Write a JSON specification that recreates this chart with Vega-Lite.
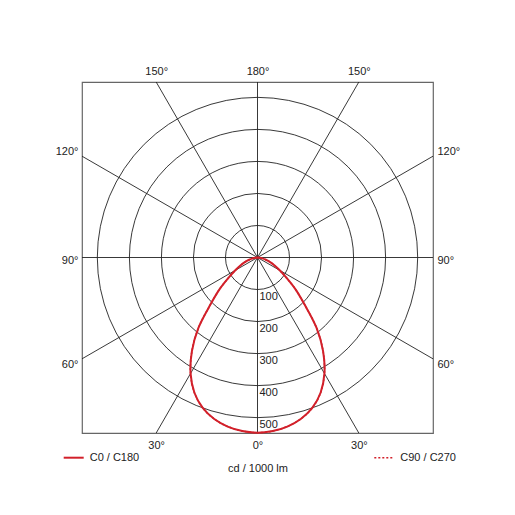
{
  "$schema": "https://vega.github.io/schema/vega-lite/v6.json",
  "width": 351,
  "height": 351,
  "autosize": "none",
  "padding": {"left": 82, "top": 82, "right": 82, "bottom": 82},
  "background": "white",
  "config": {
    "font": "Liberation Sans",
    "view": {"stroke": "#666666", "strokeWidth": 1.2},
    "axis": {"ticks": false, "domain": false, "grid": false, "labelFontSize": 11, "labelColor": "#222222", "labelFont": "Liberation Sans", "titleFont": "Liberation Sans", "titleFontSize": 11, "titleFontWeight": "normal", "titleColor": "#222222"},
    "legend": {"labelFont": "Liberation Sans", "labelFontSize": 11, "labelColor": "#222222", "padding": 0}
  },
  "datasets": {
    "rings": [{"r": 100}, {"r": 200}, {"r": 300}, {"r": 400}, {"r": 500}],
    "rays": [{"angle": 0}, {"angle": 30}, {"angle": 60}, {"angle": 90}, {"angle": 120}, {"angle": 150}, {"angle": 180}, {"angle": 210}, {"angle": 240}, {"angle": 270}, {"angle": 300}, {"angle": 330}],
    "curves": [
      {"series": "C0 / C180", "gamma": -90, "I": 0},
      {"series": "C0 / C180", "gamma": -85, "I": 6},
      {"series": "C0 / C180", "gamma": -80, "I": 15},
      {"series": "C0 / C180", "gamma": -75, "I": 27},
      {"series": "C0 / C180", "gamma": -70, "I": 42},
      {"series": "C0 / C180", "gamma": -65, "I": 58},
      {"series": "C0 / C180", "gamma": -60, "I": 80},
      {"series": "C0 / C180", "gamma": -55, "I": 110},
      {"series": "C0 / C180", "gamma": -50, "I": 155},
      {"series": "C0 / C180", "gamma": -45, "I": 208},
      {"series": "C0 / C180", "gamma": -40, "I": 287},
      {"series": "C0 / C180", "gamma": -35, "I": 357},
      {"series": "C0 / C180", "gamma": -30, "I": 418},
      {"series": "C0 / C180", "gamma": -25, "I": 466},
      {"series": "C0 / C180", "gamma": -20, "I": 500},
      {"series": "C0 / C180", "gamma": -15, "I": 522},
      {"series": "C0 / C180", "gamma": -10, "I": 536},
      {"series": "C0 / C180", "gamma": -5, "I": 544},
      {"series": "C0 / C180", "gamma": 0, "I": 547},
      {"series": "C0 / C180", "gamma": 5, "I": 544},
      {"series": "C0 / C180", "gamma": 10, "I": 536},
      {"series": "C0 / C180", "gamma": 15, "I": 522},
      {"series": "C0 / C180", "gamma": 20, "I": 500},
      {"series": "C0 / C180", "gamma": 25, "I": 466},
      {"series": "C0 / C180", "gamma": 30, "I": 418},
      {"series": "C0 / C180", "gamma": 35, "I": 357},
      {"series": "C0 / C180", "gamma": 40, "I": 287},
      {"series": "C0 / C180", "gamma": 45, "I": 208},
      {"series": "C0 / C180", "gamma": 50, "I": 155},
      {"series": "C0 / C180", "gamma": 55, "I": 110},
      {"series": "C0 / C180", "gamma": 60, "I": 80},
      {"series": "C0 / C180", "gamma": 65, "I": 58},
      {"series": "C0 / C180", "gamma": 70, "I": 42},
      {"series": "C0 / C180", "gamma": 75, "I": 27},
      {"series": "C0 / C180", "gamma": 80, "I": 15},
      {"series": "C0 / C180", "gamma": 85, "I": 6},
      {"series": "C0 / C180", "gamma": 90, "I": 0},
      {"series": "C90 / C270", "gamma": -90, "I": 0},
      {"series": "C90 / C270", "gamma": -85, "I": 6},
      {"series": "C90 / C270", "gamma": -80, "I": 15},
      {"series": "C90 / C270", "gamma": -75, "I": 27},
      {"series": "C90 / C270", "gamma": -70, "I": 42},
      {"series": "C90 / C270", "gamma": -65, "I": 58},
      {"series": "C90 / C270", "gamma": -60, "I": 80},
      {"series": "C90 / C270", "gamma": -55, "I": 110},
      {"series": "C90 / C270", "gamma": -50, "I": 155},
      {"series": "C90 / C270", "gamma": -45, "I": 208},
      {"series": "C90 / C270", "gamma": -40, "I": 287},
      {"series": "C90 / C270", "gamma": -35, "I": 357},
      {"series": "C90 / C270", "gamma": -30, "I": 418},
      {"series": "C90 / C270", "gamma": -25, "I": 466},
      {"series": "C90 / C270", "gamma": -20, "I": 500},
      {"series": "C90 / C270", "gamma": -15, "I": 522},
      {"series": "C90 / C270", "gamma": -10, "I": 536},
      {"series": "C90 / C270", "gamma": -5, "I": 544},
      {"series": "C90 / C270", "gamma": 0, "I": 547},
      {"series": "C90 / C270", "gamma": 5, "I": 544},
      {"series": "C90 / C270", "gamma": 10, "I": 536},
      {"series": "C90 / C270", "gamma": 15, "I": 522},
      {"series": "C90 / C270", "gamma": 20, "I": 500},
      {"series": "C90 / C270", "gamma": 25, "I": 466},
      {"series": "C90 / C270", "gamma": 30, "I": 418},
      {"series": "C90 / C270", "gamma": 35, "I": 357},
      {"series": "C90 / C270", "gamma": 40, "I": 287},
      {"series": "C90 / C270", "gamma": 45, "I": 208},
      {"series": "C90 / C270", "gamma": 50, "I": 155},
      {"series": "C90 / C270", "gamma": 55, "I": 110},
      {"series": "C90 / C270", "gamma": 60, "I": 80},
      {"series": "C90 / C270", "gamma": 65, "I": 58},
      {"series": "C90 / C270", "gamma": 70, "I": 42},
      {"series": "C90 / C270", "gamma": 75, "I": 27},
      {"series": "C90 / C270", "gamma": 80, "I": 15},
      {"series": "C90 / C270", "gamma": 85, "I": 6},
      {"series": "C90 / C270", "gamma": 90, "I": 0}
    ]
  },
  "resolve": {"axis": {"x": "independent", "y": "independent"}},
  "layer": [
    {
      "data": {"name": "rays"},
      "transform": [
        {"calculate": "datum.angle * PI / 180", "as": "a"},
        {"calculate": "548 / max(abs(sin(datum.a)), abs(cos(datum.a)))", "as": "L"},
        {"calculate": "datum.L * sin(datum.a)", "as": "ex"},
        {"calculate": "-datum.L * cos(datum.a)", "as": "ey"},
        {"calculate": "0", "as": "zero"}
      ],
      "mark": {"type": "rule", "color": "#222222", "strokeWidth": 0.9},
      "encoding": {
        "x": {"field": "zero", "type": "quantitative", "scale": {"domain": [-548, 548], "nice": false, "zero": false},
              "axis": {"orient": "bottom", "values": [-316.4, 0, 316.4], "labelExpr": "datum.value == 0 ? '0°' : '30°'", "labelPadding": 6, "title": "cd / 1000 lm", "titlePadding": 12}},
        "y": {"field": "zero", "type": "quantitative", "scale": {"domain": [-548, 548], "nice": false, "zero": false},
              "axis": {"orient": "left", "values": [332, -8, -334], "labelExpr": "datum.value > 100 ? '120°' : (datum.value < -100 ? '60°' : '90°')", "labelPadding": 4, "title": null}},
        "x2": {"field": "ex"},
        "y2": {"field": "ey"}
      }
    },
    {
      "data": {"name": "rings"},
      "mark": {"type": "arc", "filled": false, "stroke": "#222222", "strokeWidth": 0.9},
      "encoding": {
        "theta": {"value": 0},
        "theta2": {"value": 6.2832},
        "radius": {"field": "r", "type": "quantitative", "stack": null, "scale": {"type": "linear", "domain": [0, 548], "range": [0, 175.5], "zero": true, "nice": false}}
      }
    },
    {
      "data": {"name": "rings"},
      "transform": [
        {"calculate": "-datum.r", "as": "ry"},
        {"calculate": "0", "as": "zero"}
      ],
      "mark": {"type": "text", "align": "left", "baseline": "top", "dx": 2, "dy": 1, "fontSize": 11, "color": "#222222", "font": "Liberation Sans"},
      "encoding": {
        "x": {"field": "zero", "type": "quantitative", "scale": {"domain": [-548, 548], "nice": false, "zero": false}, "axis": null},
        "y": {"field": "ry", "type": "quantitative", "scale": {"domain": [-548, 548], "nice": false, "zero": false}, "axis": null},
        "text": {"field": "r", "type": "quantitative"}
      }
    },
    {
      "data": {"name": "curves"},
      "transform": [
        {"filter": "datum.series == 'C90 / C270'"},
        {"calculate": "datum.I * sin(datum.gamma * PI / 180)", "as": "x"},
        {"calculate": "-datum.I * cos(datum.gamma * PI / 180)", "as": "y"}
      ],
      "mark": {"type": "line", "color": "#d2202a", "strokeWidth": 1.5, "interpolate": "catmull-rom"},
      "encoding": {
        "x": {"field": "x", "type": "quantitative", "scale": {"domain": [-548, 548], "nice": false, "zero": false},
              "axis": {"orient": "top", "values": [-316.4, 0, 316.4], "labelExpr": "datum.value == 0 ? '180°' : '150°'", "labelPadding": 6, "title": null}},
        "y": {"field": "y", "type": "quantitative", "scale": {"domain": [-548, 548], "nice": false, "zero": false},
              "axis": {"orient": "right", "values": [332, -8, -334], "labelExpr": "datum.value > 100 ? '120°' : (datum.value < -100 ? '60°' : '90°')", "labelPadding": 4, "title": null}},
        "order": {"field": "gamma", "type": "quantitative"},
        "strokeDash": {"field": "series", "type": "nominal", "scale": {"domain": ["C90 / C270"], "range": [[2, 2]]},
                       "legend": {"orient": "none", "legendX": 291.3, "legendY": 365.7, "title": null, "symbolType": "stroke", "symbolSize": 324, "symbolStrokeWidth": 1.5, "symbolStrokeColor": "#d2202a", "labelOffset": 7}}
      }
    },
    {
      "data": {"name": "curves"},
      "transform": [
        {"filter": "datum.series == 'C0 / C180'"},
        {"calculate": "datum.I * sin(datum.gamma * PI / 180)", "as": "x"},
        {"calculate": "-datum.I * cos(datum.gamma * PI / 180)", "as": "y"}
      ],
      "mark": {"type": "line", "strokeWidth": 2, "interpolate": "catmull-rom"},
      "encoding": {
        "x": {"field": "x", "type": "quantitative", "scale": {"domain": [-548, 548], "nice": false, "zero": false}, "axis": null},
        "y": {"field": "y", "type": "quantitative", "scale": {"domain": [-548, 548], "nice": false, "zero": false}, "axis": null},
        "order": {"field": "gamma", "type": "quantitative"},
        "color": {"field": "series", "type": "nominal", "scale": {"domain": ["C0 / C180"], "range": ["#d2202a"]},
                  "legend": {"orient": "none", "legendX": -19.3, "legendY": 364.7, "title": null, "symbolType": "stroke", "symbolSize": 400, "symbolStrokeWidth": 2, "labelOffset": 5}}
      }
    }
  ]
}
